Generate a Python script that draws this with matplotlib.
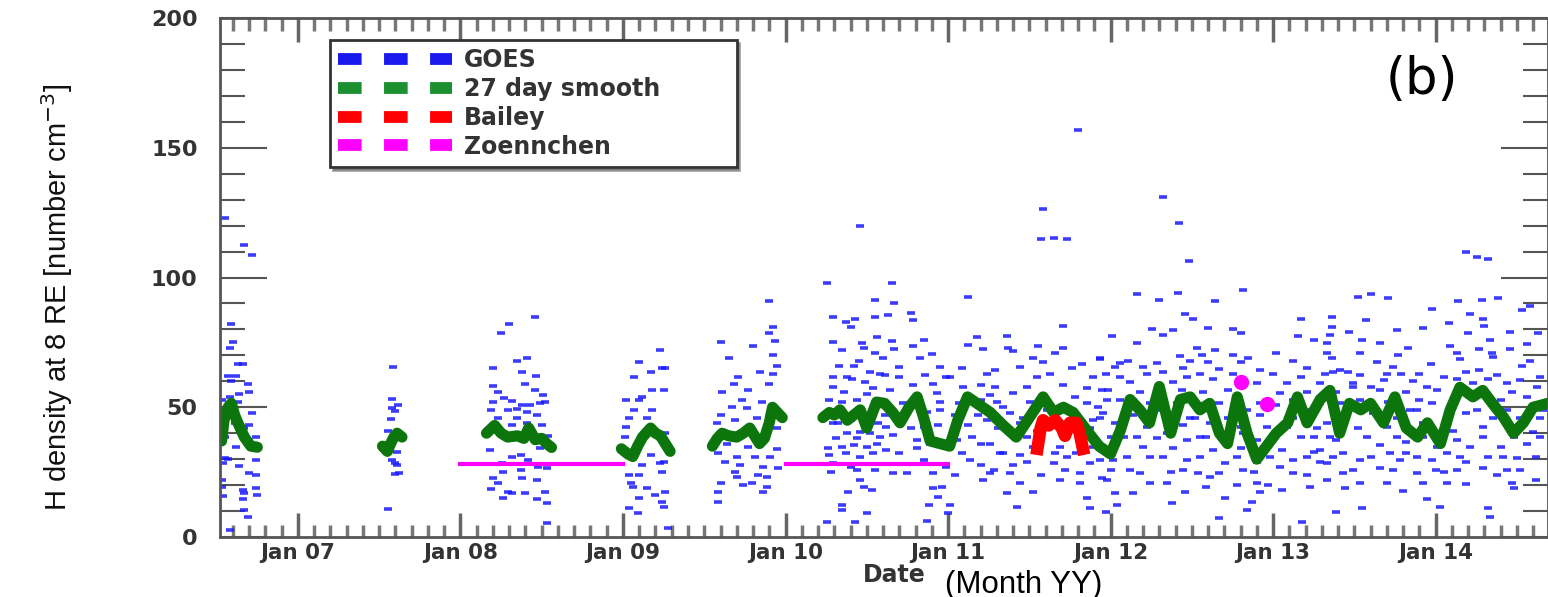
import matplotlib
matplotlib.use('Agg')
import matplotlib.pyplot as plt
from matplotlib.lines import Line2D
from matplotlib.ticker import MultipleLocator, FixedLocator

# ---- data: (decimal year, H density [cm^-3]) ----
goes_2006 = [(2006.55,123),(2006.67,112.7),(2006.72,108.5),(2006.59,82),(2006.60,75),(2006.58,73),
             (2006.63,66.5),(2006.66,66.5),(2006.57,62),(2006.62,62),(2006.59,60),(2006.69,59),(2006.70,56),
             (2006.64,55),(2006.58,54),(2006.63,52),(2006.72,47.7),(2006.54,42),(2006.67,42),(2006.70,43),
             (2006.74,38.5),(2006.62,34.6),(2006.55,30.4),(2006.57,30),(2006.54,28.5),(2006.64,27.3),
             (2006.74,29.6),(2006.70,24.6),(2006.74,23.8),(2006.74,18.8),(2006.66,18),(2006.67,17),
             (2006.54,15.8),(2006.75,16),(2006.66,14.6),(2006.67,10.4),(2006.69,7.7),(2006.58,2.7),
             (2006.53,52.7),(2006.53,49),(2006.55,38.5),(2006.61,44),(2006.72,36),(2006.53,22),(2006.53,19.2)]
goes_2007 = [(2007.585,65.4),(2007.58,53),(2007.615,51),(2007.58,49.6),(2007.60,48.5),(2007.57,45.4),
             (2007.555,41),(2007.61,32.7),(2007.58,29.6),(2007.60,28.5),(2007.61,27.7),(2007.60,24.2),
             (2007.62,24.6),(2007.555,10.8),(2007.55,36)]
goes_2008 = [(2008.46,84.6),(2008.30,82),(2008.25,78.5),(2008.35,67.7),(2008.41,68.8),(2008.20,65),
             (2008.38,63.5),(2008.465,62),(2008.40,59),(2008.20,58),(2008.23,55.8),(2008.46,56.5),
             (2008.51,54.6),(2008.27,53.5),(2008.32,52.3),(2008.20,52),(2008.52,52),(2008.38,50.8),
             (2008.43,50.8),(2008.49,51.5),(2008.19,48.8),(2008.29,48.8),(2008.35,49.2),(2008.41,48),
             (2008.23,45.8),(2008.35,46),(2008.47,47),(2008.41,44),(2008.50,43),(2008.32,43),(2008.54,39),
             (2008.18,33.5),(2008.49,34.2),(2008.37,31.5),(2008.32,30.8),(2008.415,29.6),(2008.255,28.5),
             (2008.48,27),(2008.53,26.5),(2008.37,25.8),(2008.26,25),(2008.20,22.7),(2008.38,22.7),
             (2008.47,22),(2008.23,20.8),(2008.19,18.5),(2008.29,17.3),(2008.32,16.9),(2008.40,17),
             (2008.52,17.3),(2008.26,15),(2008.47,14.6),(2008.53,13),(2008.53,5.4)]
goes_2009 = [(2009.23,72),(2009.10,67.3),(2009.17,63.5),(2009.24,65),(2009.07,61.5),(2009.12,53.8),
             (2009.18,56.5),(2009.02,52.7),(2009.10,52.7),(2009.07,48.8),(2009.18,48.8),(2009.04,46),
             (2009.15,45.8),(2009.02,42.3),(2009.01,38.5),(2009.17,31.5),(2009.12,27.7),(2009.23,28.5),
             (2009.04,23.8),(2009.10,23.8),(2009.05,20.8),(2009.06,19.2),(2009.15,18.8),(2009.20,16.2),
             (2009.10,15),(2009.04,11.2),(2009.09,9.2),(2009.24,25),(2009.24,13.5),(2009.26,65),
             (2009.25,56.5),(2009.26,40),(2009.25,28.8),(2009.26,17.3),(2009.25,11.5),(2009.28,3.5),
             (2009.90,91),(2009.92,81),(2009.90,78.5),(2009.935,75.4),(2009.60,75),(2009.80,73.8),
             (2009.65,69),(2009.92,70),(2009.95,66),(2009.84,63.5),(2009.92,63),(2009.71,61.5),
             (2009.68,59),(2009.90,59),(2009.61,56),(2009.77,56.5),(2009.73,52.7),(2009.855,52),
             (2009.67,50),(2009.76,49.6),(2009.60,47),(2009.825,46),(2009.58,44),(2009.69,45),
             (2009.95,42),(2009.64,36),(2009.77,34.6),(2009.95,34),(2009.585,32.3),(2009.70,30.8),
             (2009.81,30.8),(2009.905,30.8),(2009.63,28.8),(2009.72,27.7),(2009.86,27),(2009.955,26.5),
             (2009.69,25),(2009.83,23.8),(2009.70,23),(2009.885,23),(2009.60,21),(2009.74,20),
             (2009.795,20.8),(2009.885,19.2),(2009.585,17.3),(2009.86,17.3),(2009.585,13.5)]
goes_2010 = [(2010.46,120),(2010.255,98),(2010.55,91.5),(2010.29,84.6),(2010.37,82.7),(2010.43,84),
             (2010.55,84.6),(2010.40,80.8),(2010.29,75),(2010.47,74.6),(2010.35,72),(2010.56,77),
             (2010.48,72.7),(2010.55,70.8),(2010.42,66),(2010.52,63.5),(2010.58,63),(2010.29,61.5),
             (2010.38,61.5),(2010.41,61),(2010.49,59.6),(2010.29,57.7),(2010.54,57.3),(2010.27,52.7),
             (2010.35,52),(2010.44,52.7),(2010.29,43.8),(2010.38,40),(2010.46,40.4),(2010.58,38.5),
             (2010.26,34.2),(2010.35,34.6),(2010.42,35.4),(2010.50,34.6),(2010.56,36),(2010.27,31.5),
             (2010.37,32.3),(2010.46,30.8),(2010.54,32.3),(2010.29,28.5),(2010.44,25.8),(2010.46,22),
             (2010.48,19.2),(2010.385,17.3),(2010.53,18),(2010.35,12.3),(2010.35,10.4),(2010.50,9.2),
             (2010.255,5.8),(2010.43,5.8),(2010.655,97.7),(2010.67,90),(2010.63,85.4),(2010.77,86.5),
             (2010.785,83.8),(2010.85,76),(2010.655,75.4),(2010.785,73.8),(2010.67,72.3),(2010.90,70.4),
             (2010.60,69),(2010.83,69),(2010.95,65.4),(2010.61,62.3),(2010.70,61.5),(2010.86,62.3),
             (2010.785,58.5),(2010.91,59),(2010.645,56.5),(2010.93,55.4),(2010.72,51.5),(2010.95,52),
             (2010.61,47),(2010.87,48),(2010.77,42),(2010.94,43),(2010.66,39.2),(2010.81,37.3),
             (2010.62,33.5),(2010.81,34.2),(2010.85,29.6),(2010.66,24.6),(2010.91,24.6),(2010.91,18.8),
             (2010.96,19.2),(2010.94,15.4),(2010.88,12.3),(2010.87,6.2),
             (2010.32,43.8),(2010.40,45),(2010.50,47),(2010.57,44),(2010.31,38),(2010.44,38),
             (2010.52,40),(2010.28,25),(2010.40,27),(2010.55,26),(2010.33,66),(2010.45,68),
             (2010.36,56),(2010.50,55),(2010.70,65.4),(2010.99,61.5),(2010.85,42.3),(2010.70,32.3),
             (2010.89,36),(2010.99,27),(2010.75,24.6),(2010.81,52.7),(2010.95,48.8),(2010.62,42.3)]
goes_2011 = [(2011.80,157),(2011.585,126.5),(2011.57,115),(2011.65,115.4),(2011.73,115),(2011.12,92.3),
             (2011.71,81.5),(2011.18,77),(2011.36,77.3),(2011.12,74),(2011.555,73.5),(2011.71,72.7),
             (2011.215,72.3),(2011.37,73),(2011.40,71.5),(2011.52,69),(2011.585,67.3),(2011.66,70.8),
             (2011.825,66.5),(2011.935,68.5),(2011.085,65),(2011.29,64.2),(2011.44,65.4),(2011.63,63),
             (2011.765,65),(2011.01,61.5),(2011.24,63),(2011.55,61.5),(2011.89,61.5),(2011.20,58.5),
             (2011.29,57.7),(2011.485,57.7),(2011.71,58.5),(2011.855,57.3),(2011.95,56.5),(2011.26,54.6),
             (2011.40,55.4),(2011.78,53.8),(2011.34,50),(2011.505,52),(2011.855,51.5),(2011.04,47),
             (2011.185,47),(2011.46,46),(2011.935,45.8),(2011.12,43),(2011.31,42),(2011.70,41),
             (2011.875,42),(2011.15,38.5),(2011.26,36),(2011.52,34.6),(2011.89,34.6),(2011.085,32.3),
             (2011.32,32.3),(2011.44,31.5),(2011.73,30.8),(2011.20,27.7),(2011.485,28.8),(2011.65,28.5),
             (2011.875,28.5),(2011.04,23.8),(2011.26,24.6),(2011.38,24.6),(2011.72,25.8),(2011.95,22.7),
             (2011.44,20.8),(2011.81,20.8),(2011.52,17.3),(2011.36,17),(2011.855,15),(2011.01,12.3),
             (2011.425,11.5),(2011.875,11.2),(2011.00,9.2),
             (2011.09,57.7),(2011.20,52.7),(2011.30,52),(2011.38,47.7),(2011.44,43.8),(2011.55,41),
             (2011.66,32.3),(2011.79,32.3),(2011.83,40),(2011.92,50),(2011.135,29.6),(2011.28,25.8),
             (2011.40,27.7),(2011.57,23.8),(2011.69,22),(2011.81,24.6),(2011.215,22),(2011.07,51.5),
             (2011.24,45),(2011.40,40),(2011.485,38.5),(2011.20,36),(2011.34,32.3),(2011.055,37.3),
             (2011.61,48.8),(2011.73,48.8),(2011.89,45),(2011.935,29.6),(2011.69,34.6)]
goes_2012 = [(2012.32,131),(2012.42,121),(2012.48,106.5),(2012.16,93.5),(2012.415,94),(2012.815,95),
             (2012.30,91.5),(2012.64,91),(2012.46,85.8),(2012.51,84.2),(2012.255,80),(2012.01,77.3),
             (2012.32,78),(2012.385,79.6),(2012.60,80.4),(2012.755,80),(2012.80,78.5),(2012.16,74.6),
             (2012.53,73),(2012.64,72),(2011.935,68.8),(2012.43,69.6),(2012.56,70),(2012.11,67.7),
             (2012.285,66.9),(2012.49,68),(2012.60,67.3),(2012.755,70),(2012.80,67.3),(2012.03,65.4),
             (2012.20,65.4),(2012.445,65),(2012.845,68.8),(2011.97,63),(2012.32,63.5),(2012.55,63),
             (2012.67,64.6),(2012.12,59.6),(2012.385,59.6),(2012.63,61),(2012.90,59.2),(2011.985,56.5),
             (2012.18,55.8),(2012.44,56.5),(2012.57,55.8),(2012.72,56.5),(2012.06,52.7),(2012.24,51.5),
             (2012.67,51.5),(2011.955,47.7),(2012.14,47),(2012.35,47.7),(2012.52,46),(2012.92,47),
             (2012.03,43.8),(2012.225,42.3),(2012.445,43),(2012.61,43.8),(2012.80,42.3),(2012.08,38.5),
             (2012.285,38),(2012.55,38.5),(2012.735,38.5),(2012.90,37.3),(2011.955,33.5),(2012.20,34.6),
             (2012.385,34.2),(2012.63,33.5),(2012.80,34.2),(2012.015,29.6),(2012.24,30.8),(2012.47,29.6),
             (2012.705,28.5),(2012.90,28.8),(2012.00,25.8),(2012.18,24.6),(2012.37,25),(2012.54,24.6),
             (2012.67,24.6),(2012.88,25),(2011.98,22),(2012.35,20.8),(2012.78,20),(2012.97,20),
             (2012.03,17),(2012.46,17.3),(2012.92,17.3),(2012.04,12.3),(2012.38,13),(2012.705,15),
             (2012.87,13.5),(2011.97,9.6),(2012.84,10.4),(2012.67,7.3),
             (2012.06,61.5),(2012.14,52.7),(2012.285,48.8),(2012.41,51.5),(2012.49,46),(2012.59,48.8),
             (2012.72,46),(2012.84,48.8),(2012.96,42.3),(2012.00,38.5),(2012.16,38.5),(2012.35,40),
             (2012.47,37.3),(2012.59,38.5),(2012.815,40),(2012.10,30.8),(2012.32,30.8),(2012.55,30.8),
             (2012.78,30.8),(2012.98,30.8),(2012.12,25.8),(2012.445,25.8),(2012.61,23),(2012.815,25.8),
             (2012.24,20.8),(2012.59,19.2),(2012.90,20.8),(2012.14,17),(2012.06,67),(2012.225,63),
             (2012.47,61.5),(2012.755,63),(2012.92,64.2),(2011.98,52.7),(2012.92,51.5)]
goes_2013 = [(2013.17,84.2),(2013.155,77.3),(2013.25,75.8),(2013.02,71),(2013.12,67.7),(2013.21,65),
             (2013.00,63),(2013.085,59.2),(2013.29,59.2),(2013.04,55.4),(2013.21,55.8),(2013.02,50.8),
             (2013.29,51.5),(2013.21,46),(2013.085,42.3),(2013.27,42),(2013.17,38.5),(2013.055,33.5),
             (2013.25,32.7),(2013.12,29.6),(2013.29,28.8),(2013.04,27),(2013.21,23.8),(2013.055,18),
             (2013.23,19.2),(2013.18,5.8),(2013.60,93.8),(2013.52,92.3),(2013.71,92),(2013.98,88),
             (2013.36,84.6),(2013.57,83.8),(2013.36,81),(2013.92,80.4),(2013.47,79),(2013.76,79.6),
             (2013.35,78),(2013.55,76),(2013.66,74.6),(2013.33,74.6),(2013.83,72.7),(2013.33,71),
             (2013.535,70.8),(2013.77,70),(2013.36,68.8),(2013.64,67.3),(2013.97,66.5),(2013.74,65.4),
             (2013.37,63.5),(2013.46,63.5),(2013.535,62.3),(2013.79,62.7),(2013.32,63),(2013.68,60.4),
             (2013.86,60),(2013.49,59.2),(2013.60,57.7),(2013.95,57.7),(2013.39,55.8),(2013.82,55.8),
             (2013.535,52.7),(2013.71,52),(2013.90,52.7),(2013.455,48.8),(2013.615,47.7),(2013.84,48.8),
             (2013.33,43.8),(2013.52,42),(2013.70,42.3),(2013.92,43.8),(2013.39,37.3),(2013.66,35.4),
             (2013.82,36.5),(2013.29,33.5),(2013.43,32.3),(2013.72,32.3),(2013.885,30.8),(2013.535,29.6),
             (2013.78,29.6),(2013.33,28.5),(2013.66,26.5),(2013.43,24.6),(2013.885,24.6),(2013.33,22),
             (2013.535,21),(2013.92,20.8),(2013.44,18.8),(2013.80,17.7),(2013.95,14.6),(2013.39,9.6),
             (2013.55,11.2),
             (2013.12,46),(2013.23,48.8),(2013.00,38.5),(2013.25,38.5),(2013.21,30.8),(2013.12,24.6),
             (2013.17,61.5),(2013.12,52.7),(2013.41,51.5),(2013.49,57.7),(2013.66,56.5),(2013.76,46),
             (2013.885,48.8),(2013.98,51.5),(2013.35,38.5),(2013.58,38.5),(2013.76,38.5),(2013.92,38.5),
             (2013.37,30.8),(2013.60,30.8),(2013.82,32.3),(2013.98,29.6),(2013.49,25.8),(2013.74,25.8),
             (2013.70,20.8),(2013.41,64.2),(2013.70,63),(2013.90,63)]
goes_2014 = [(2014.19,110),(2014.255,108),(2014.32,107),(2014.285,91.5),(2014.385,92),(2014.14,90.8),
             (2014.58,89.2),(2014.21,86),(2014.53,87.3),(2014.29,84.2),(2014.08,82.3),(2014.30,81.5),
             (2014.20,78.5),(2014.46,79),(2014.335,75.8),(2014.63,78.5),(2014.09,73.8),(2014.56,74.2),
             (2014.27,72.3),(2014.46,72.3),(2014.13,70.8),(2014.35,71),(2014.15,68.5),(2014.355,69.2),
             (2014.58,67.7),(2014.53,66),(2014.19,63.5),(2014.27,64.2),(2014.38,62.3),(2014.13,61),
             (2014.32,61),(2014.44,59.2),(2014.625,57.7),(2014.01,56.5),(2014.47,55.8),(2014.11,51.5),
             (2014.40,52.7),(2014.56,53.8),(2014.19,47.7),(2014.355,46),(2014.64,46),(2014.11,41),
             (2014.29,42.3),(2014.46,42.3),(2014.60,40.4),(2014.01,34.6),(2014.21,34.6),(2014.40,34.6),
             (2014.56,36),(2014.07,32.3),(2014.32,30.8),(2014.50,30.4),(2014.19,28.8),(2014.00,25.8),
             (2014.29,26.5),(2014.52,25.8),(2014.05,25),(2014.38,23.8),(2014.19,20.4),(2014.47,21),
             (2014.48,18.8),(2014.03,11.5),(2014.32,11.2),(2014.335,7.7),
             (2014.07,46),(2014.255,48.8),(2014.44,48.8),(2014.52,46),(2014.66,48.8),(2014.13,37.3),
             (2014.29,38.5),(2014.48,38.5),(2014.64,38.5),(2014.15,30.8),(2014.415,30.8),(2014.62,30.8),
             (2014.13,25.8),(2014.44,25.8),(2014.07,20.8),(2014.62,22),(2014.05,61.5),(2014.23,59.2),
             (2014.52,60.4),(2014.64,61.5)]

# 27 day smooth, separate pieces where data are missing
smooth_2006 = [(2006.53,37),(2006.545,45),(2006.57,50),(2006.59,51.5),(2006.61,47),(2006.63,44),
               (2006.67,38.5),(2006.71,35),(2006.75,34.6)]
smooth_2007 = [(2007.52,35),(2007.55,33),(2007.57,36),(2007.59,38.5),(2007.61,40),(2007.64,38.5)]
smooth_2008 = [(2008.16,40),(2008.21,43),(2008.25,40),(2008.29,38.5),(2008.35,39),(2008.39,38),
               (2008.42,42),(2008.46,37.5),(2008.50,38),(2008.53,36),(2008.56,34.5)]
smooth_2009a = [(2008.99,34),(2009.03,32),(2009.06,31),(2009.09,35),(2009.12,38.5),(2009.17,42),
                (2009.20,40),(2009.23,39),(2009.26,36),(2009.29,33)]
smooth_2009b = [(2009.55,35),(2009.58,38),(2009.61,40),(2009.65,39),(2009.70,38.5),(2009.74,40),
                (2009.78,42),(2009.81,39),(2009.84,36),(2009.87,38),(2009.90,44),(2009.92,50),
                (2009.95,48),(2009.98,46)]
smooth_2010 = [(2010.23,46),(2010.27,48),(2010.30,47),(2010.335,49),(2010.38,45),(2010.42,47),
               (2010.46,49),(2010.50,42),(2010.56,52),(2010.61,51.5),(2010.66,48),(2010.705,44),
               (2010.76,50),(2010.81,54),(2010.85,46),(2010.89,37),(2010.95,36),(2011.01,35),
               (2011.06,45),(2011.12,54),(2011.19,51),(2011.26,48),(2011.34,43),(2011.42,38.5),
               (2011.50,46),(2011.585,54),(2011.65,48),(2011.71,50),(2011.77,48),(2011.855,41),
               (2011.93,35),(2012.00,32),(2012.06,41),(2012.12,53),(2012.18,49),(2012.24,44),
               (2012.30,58),(2012.37,40),(2012.43,53),(2012.49,54),(2012.55,49),(2012.61,51.5),
               (2012.67,40),(2012.72,36),(2012.78,54),(2012.84,40),(2012.90,30),(2012.96,35),
               (2013.02,40),(2013.09,44),(2013.15,54),(2013.21,44),(2013.29,53),(2013.35,56.5),
               (2013.41,40),(2013.47,51.5),(2013.54,49),(2013.60,51.5),(2013.68,44),(2013.75,54),
               (2013.82,42),(2013.89,38.5),(2013.95,44),(2014.03,36),(2014.09,49),(2014.15,57.7),
               (2014.23,54),(2014.29,56.5),(2014.35,51.5),(2014.42,46),(2014.48,40),(2014.54,44),
               (2014.60,50),(2014.69,51.5)]

bailey = [(2011.55,34),(2011.56,38),(2011.57,42),(2011.585,45),(2011.62,43),(2011.66,45),
          (2011.70,42),(2011.72,39),(2011.75,44),(2011.79,44),(2011.81,40),(2011.82,37),(2011.83,34)]

zoennchen_spans = [(2008.0, 2009.0, 28), (2010.0, 2011.0, 28)]
zoennchen_points = [(2012.80, 59.6), (2012.96, 51.2)]

years = [2007, 2008, 2009, 2010, 2011, 2012, 2013, 2014]
year_labels = ['Jan 07', 'Jan 08', 'Jan 09', 'Jan 10', 'Jan 11', 'Jan 12', 'Jan 13', 'Jan 14']

c_goes = '#1a1aff'
c_smooth = '#0c760c'
c_bailey = '#ff0000'
c_zoen = '#ff00ff'
txt_gray = '#333333'

fig = plt.figure(figsize=(15.48, 5.97), dpi=100)
ax = fig.add_axes([0.1421, 0.1005, 0.8579, 0.8693])

for grp in [goes_2006, goes_2007, goes_2008, goes_2009, goes_2010, goes_2011, goes_2012, goes_2013, goes_2014]:
    t, v = zip(*grp)
    ax.plot(t, v, ls='none', marker='_', ms=6, mew=2.6, color=c_goes, alpha=0.85)

for seg in [smooth_2006, smooth_2007, smooth_2008, smooth_2009a, smooth_2009b, smooth_2010]:
    t, v = zip(*seg)
    ax.plot(t, v, color=c_smooth, lw=8, solid_joinstyle='round', solid_capstyle='round')

t, v = zip(*bailey)
ax.plot(t, v, color=c_bailey, lw=9, solid_joinstyle='round')

for t0, t1, v0 in zoennchen_spans:
    ax.plot([t0, t1], [v0, v0], color=c_zoen, lw=3)
t, v = zip(*zoennchen_points)
ax.plot(t, v, ls='none', marker='o', ms=10, color=c_zoen)

ax.set_xlim(2006.52, 2014.692)
ax.set_ylim(0, 200)

ax.xaxis.set_major_locator(FixedLocator(years))
ax.set_xticklabels(year_labels)
ax.xaxis.set_minor_locator(MultipleLocator(0.1))
ax.yaxis.set_major_locator(MultipleLocator(50))
ax.yaxis.set_minor_locator(MultipleLocator(10))

ax.tick_params(axis='x', which='major', direction='in', length=17, width=2.5, top=True, bottom=True,
               pad=4, color='#666666', labelcolor=txt_gray, labelsize=15.5)
ax.tick_params(axis='x', which='minor', direction='in', length=9, width=2.5, top=True, bottom=True,
               color='#777777')
ax.tick_params(axis='y', which='major', direction='in', length=34, width=1.5, left=True, right=True,
               pad=16, color='#555555', labelcolor=txt_gray, labelsize=16)
ax.tick_params(axis='y', which='minor', direction='in', length=18, width=1.5, left=True, right=True,
               color='#555555')
for lab in ax.get_xticklabels() + ax.get_yticklabels():
    lab.set_fontweight('bold')

for sp in ax.spines.values():
    sp.set_color('#555555')
    sp.set_linewidth(2)

handles = [Line2D([], [], color=c, lw=8.5, ls=(0, (2, 1.9)), dash_capstyle='butt')
           for c in ['#1a1aee', '#1a9030', '#ff0000', '#ff00ff']]
leg = ax.legend(handles, ['GOES', '27 day smooth', 'Bailey', 'Zoennchen'],
                loc='upper left', bbox_to_anchor=(0.083, 0.715, 0.306, 0.2425), mode='expand',
                borderaxespad=0, fancybox=False, shadow=True, framealpha=1,
                prop={'size': 17, 'weight': 'bold'}, handlelength=4.8, handletextpad=0.5,
                borderpad=0.35, labelspacing=0.2)
leg.get_frame().set_edgecolor('#333333')
leg.get_frame().set_linewidth(2)
for txt in leg.get_texts():
    txt.set_color(txt_gray)

fig.text(0.9186, 0.866, '(b)', fontsize=37, ha='center', va='center', color='black')

fig.text(0.037, 0.5017, 'H density at 8 RE [number cm$^{-3}$]', rotation=90, ha='center', va='center',
         fontsize=21, family=['Liberation Sans Narrow', 'Liberation Sans'], color='#111111')
fig.text(0.5775, 0.037, 'Date', ha='center', va='center', fontsize=17, weight='bold', color=txt_gray)
fig.text(0.6105, 0.0067, '(Month YY)', ha='left', va='baseline', fontsize=22.5,
         family='Liberation Sans', color='black')

fig.savefig('out.png', dpi=100)
